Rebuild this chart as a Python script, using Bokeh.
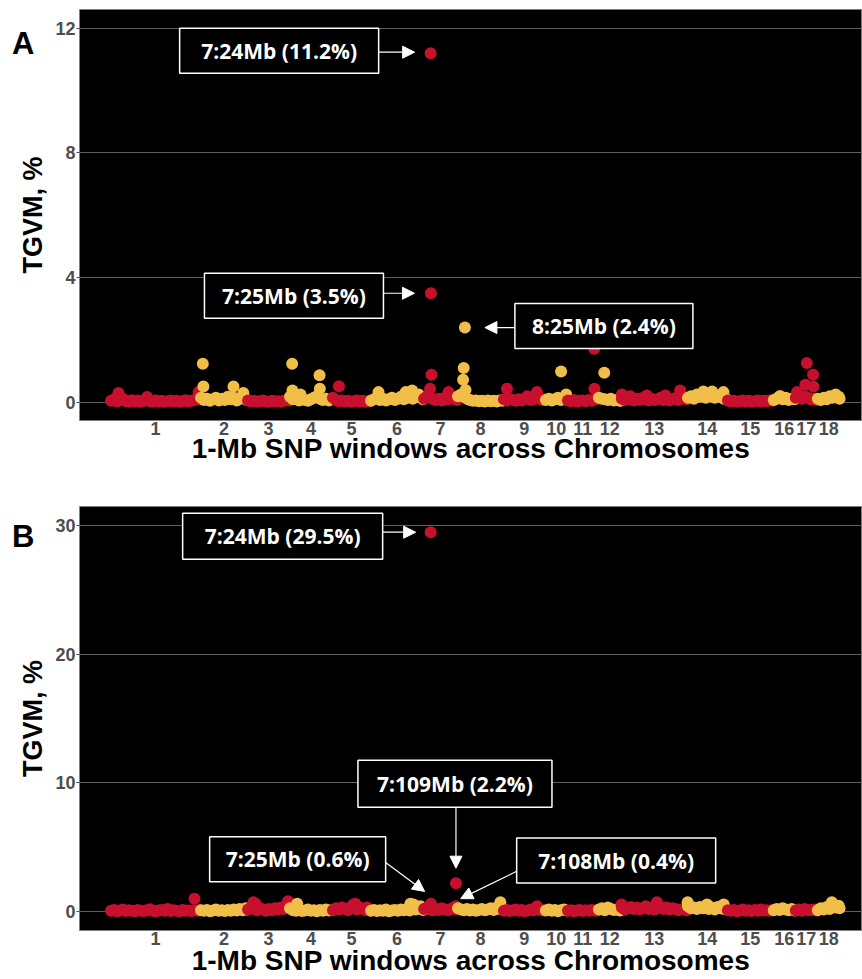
import numpy as np
from bokeh.plotting import figure
from bokeh.layouts import column
from bokeh.models import Range1d, FixedTicker, Arrow, NormalHead, LinearAxis
from bokeh.embed import file_html
from bokeh.resources import INLINE
from bokeh.core.properties import value

# ---------------- data ----------------
chrom_names = ["1", "2", "3", "4", "5", "6", "7", "8", "9", "10",
               "11", "12", "13", "14", "15", "16", "17", "18"]
# number of 1-Mb windows per chromosome (as read from the x extents)
chrom_len = [302, 158, 141, 144, 128, 178, 114, 154, 141, 74, 104, 77, 222, 134, 154, 74, 74, 77]

# background windows (Mb within chromosome), one list per chromosome
base_mb = [
    [2, 12, 22, 32, 42, 52, 62, 72, 82, 92, 102, 112, 122, 132, 142, 152, 162, 172, 182, 192,
     202, 212, 222, 232, 242, 252, 262, 272, 282, 292, 300],
    [2, 12, 22, 32, 42, 52, 62, 72, 82, 92, 102, 112, 122, 132, 142, 152, 156],
    [2, 12, 22, 32, 42, 52, 62, 72, 82, 92, 102, 112, 122, 132, 139],
    [2, 12, 22, 32, 42, 52, 62, 72, 82, 92, 102, 112, 122, 132, 142],
    [2, 12, 22, 32, 42, 52, 62, 72, 82, 92, 102, 112, 122, 126],
    [2, 12, 22, 32, 42, 52, 62, 72, 82, 92, 102, 112, 122, 132, 142, 152, 162, 172, 176],
    [2, 12, 22, 32, 42, 52, 62, 72, 82, 92, 102, 112],
    [2, 12, 22, 32, 42, 52, 62, 72, 82, 92, 102, 112, 122, 132, 142, 152],
    [2, 12, 22, 32, 42, 52, 62, 72, 82, 92, 102, 112, 122, 132, 139],
    [2, 12, 22, 32, 42, 52, 62, 72],
    [2, 12, 22, 32, 42, 52, 62, 72, 82, 92, 102],
    [2, 12, 22, 32, 42, 52, 62, 72, 75],
    [2, 12, 22, 32, 42, 52, 62, 72, 82, 92, 102, 112, 122, 132, 142, 152, 162, 172, 182, 192,
     202, 212, 220],
    [2, 12, 22, 32, 42, 52, 62, 72, 82, 92, 102, 112, 122, 132],
    [2, 12, 22, 32, 42, 52, 62, 72, 82, 92, 102, 112, 122, 132, 142, 152],
    [2, 12, 22, 32, 42, 52, 62, 72],
    [2, 12, 22, 32, 42, 52, 62, 72],
    [2, 12, 22, 32, 42, 52, 62, 72, 75],
]
A_base_val = [
    [0.05, 0.10, 0.03, 0.08, 0.12, 0.04, 0.02, 0.07, 0.03, 0.06, 0.02, 0.05, 0.10, 0.04, 0.02, 0.06,
     0.03, 0.05, 0.02, 0.04, 0.06, 0.03, 0.05, 0.02, 0.04, 0.07, 0.03, 0.05, 0.08, 0.12, 0.10],
    [0.15, 0.08, 0.12, 0.05, 0.10, 0.15, 0.06, 0.12, 0.08, 0.18, 0.10, 0.15, 0.06, 0.12, 0.20, 0.10, 0.08],
    [0.06, 0.03, 0.05, 0.02, 0.04, 0.06, 0.03, 0.02, 0.05, 0.03, 0.04, 0.02, 0.05, 0.08, 0.06],
    [0.18, 0.10, 0.15, 0.06, 0.12, 0.08, 0.05, 0.10, 0.15, 0.20, 0.12, 0.08, 0.12, 0.06, 0.10],
    [0.15, 0.08, 0.04, 0.06, 0.03, 0.05, 0.02, 0.04, 0.06, 0.03, 0.05, 0.02, 0.04, 0.06],
    [0.05, 0.10, 0.15, 0.08, 0.12, 0.06, 0.10, 0.15, 0.08, 0.12, 0.18, 0.10, 0.14, 0.20, 0.12, 0.18,
     0.25, 0.15, 0.10],
    [0.12, 0.20, 0.15, 0.10, 0.08, 0.12, 0.06, 0.15, 0.10, 0.18, 0.12, 0.08],
    [0.20, 0.25, 0.18, 0.12, 0.08, 0.05, 0.06, 0.04, 0.05, 0.03, 0.06, 0.04, 0.05, 0.03, 0.06, 0.05],
    [0.10, 0.06, 0.12, 0.08, 0.05, 0.10, 0.06, 0.12, 0.15, 0.08, 0.10, 0.20, 0.12, 0.08, 0.10],
    [0.08, 0.12, 0.06, 0.10, 0.15, 0.08, 0.12, 0.10],
    [0.06, 0.04, 0.08, 0.03, 0.05, 0.06, 0.04, 0.08, 0.05, 0.10, 0.12],
    [0.15, 0.12, 0.10, 0.08, 0.12, 0.06, 0.08, 0.05, 0.06],
    [0.12, 0.08, 0.15, 0.10, 0.06, 0.12, 0.08, 0.14, 0.10, 0.06, 0.12, 0.08, 0.10, 0.15, 0.08, 0.12,
     0.06, 0.10, 0.14, 0.08, 0.15, 0.12, 0.10],
    [0.15, 0.20, 0.12, 0.25, 0.18, 0.22, 0.15, 0.25, 0.20, 0.15, 0.22, 0.18, 0.12, 0.10],
    [0.06, 0.03, 0.05, 0.02, 0.04, 0.06, 0.03, 0.05, 0.02, 0.04, 0.06, 0.03, 0.05, 0.04, 0.06, 0.05],
    [0.08, 0.12, 0.20, 0.10, 0.15, 0.08, 0.12, 0.10],
    [0.15, 0.25, 0.12, 0.20, 0.15, 0.10, 0.12, 0.08],
    [0.12, 0.08, 0.15, 0.10, 0.20, 0.15, 0.25, 0.18, 0.12],
]
B_base_val = [
    [0.05, 0.12, 0.02, 0.08, 0.15, 0.03, 0.10, 0.05, 0.02, 0.12, 0.06, 0.03, 0.10, 0.15, 0.05, 0.02,
     0.08, 0.12, 0.05, 0.20, 0.03, 0.10, 0.06, 0.02, 0.12, 0.05, 0.08, 0.03, 0.10, 0.06, 0.12],
    [0.10, 0.05, 0.12, 0.02, 0.08, 0.15, 0.05, 0.10, 0.03, 0.12, 0.06, 0.15, 0.08, 0.20, 0.10, 0.25, 0.15],
    [0.15, 0.30, 0.20, 0.10, 0.25, 0.15, 0.05, 0.20, 0.10, 0.25, 0.15, 0.30, 0.20, 0.35, 0.25],
    [0.25, 0.10, 0.05, 0.12, 0.03, 0.08, 0.15, 0.05, 0.10, 0.02, 0.12, 0.06, 0.15, 0.08, 0.10],
    [0.10, 0.25, 0.15, 0.30, 0.20, 0.10, 0.35, 0.25, 0.15, 0.30, 0.20, 0.10, 0.15, 0.05],
    [0.05, 0.12, 0.03, 0.10, 0.06, 0.15, 0.02, 0.08, 0.12, 0.05, 0.15, 0.10, 0.20, 0.08, 0.25, 0.15,
     0.30, 0.20, 0.12],
    [0.20, 0.30, 0.15, 0.10, 0.20, 0.12, 0.25, 0.15, 0.10, 0.20, 0.30, 0.15],
    [0.25, 0.15, 0.10, 0.20, 0.08, 0.15, 0.05, 0.12, 0.20, 0.10, 0.15, 0.25, 0.12, 0.30, 0.20, 0.15],
    [0.05, 0.12, 0.03, 0.10, 0.15, 0.06, 0.12, 0.02, 0.08, 0.15, 0.10, 0.20, 0.12, 0.08, 0.10],
    [0.08, 0.15, 0.05, 0.12, 0.02, 0.10, 0.15, 0.08],
    [0.05, 0.10, 0.02, 0.08, 0.12, 0.03, 0.10, 0.06, 0.12, 0.05, 0.08],
    [0.15, 0.25, 0.10, 0.30, 0.20, 0.12, 0.15, 0.08, 0.10],
    [0.30, 0.15, 0.25, 0.35, 0.20, 0.30, 0.15, 0.25, 0.40, 0.20, 0.30, 0.15, 0.25, 0.35, 0.20, 0.30,
     0.15, 0.25, 0.20, 0.10, 0.15, 0.20, 0.10],
    [0.40, 0.25, 0.30, 0.20, 0.35, 0.25, 0.40, 0.20, 0.30, 0.15, 0.35, 0.25, 0.20, 0.15],
    [0.10, 0.05, 0.12, 0.02, 0.08, 0.15, 0.05, 0.10, 0.03, 0.12, 0.06, 0.15, 0.08, 0.10, 0.05, 0.12],
    [0.10, 0.20, 0.12, 0.25, 0.15, 0.10, 0.20, 0.08],
    [0.08, 0.15, 0.05, 0.20, 0.12, 0.10, 0.15, 0.08],
    [0.10, 0.25, 0.15, 0.35, 0.20, 0.40, 0.30, 0.45, 0.25],
]

# windows standing out of the background (panel A)
A_peak_chr = [1, 1, 1, 2, 2, 2, 2, 4, 4, 4, 4, 4, 5, 6, 6, 6, 7, 7, 7, 7, 7,
              8, 8, 8, 8, 9, 9, 9, 10, 10, 11, 11, 12, 13, 13, 13, 13, 13,
              14, 14, 14, 16, 17, 17, 17, 17, 17, 18]
A_peak_mb = [27, 123, 296, 8, 10, 111, 144, 9, 10, 37, 101, 102, 22, 27, 118, 140, 22, 24, 25, 27, 84,
             19, 21, 25, 27, 12, 80, 113, 53, 70, 90, 91, 20, 2, 30, 86, 148, 198,
             54, 83, 121, 24, 6, 34, 39, 60, 61, 54]
A_peak_val = [0.30, 0.17, 0.33, 1.24, 0.51, 0.51, 0.30, 1.24, 0.38, 0.25, 0.87, 0.44, 0.52, 0.33, 0.33, 0.38,
              0.44, 11.2, 3.5, 0.89, 0.33, 0.73, 1.10, 2.4, 0.40, 0.44, 0.20, 0.33, 0.99, 0.25, 1.72, 0.44,
              0.95, 0.25, 0.20, 0.22, 0.22, 0.38, 0.35, 0.35, 0.33, 0.20, 0.33, 0.57, 1.26, 0.89, 0.51, 0.20]

# panel B
B_peak_chr = [1, 1, 1, 3, 3, 3, 4, 5, 5, 5, 6, 6, 6, 7, 7, 7, 7, 8, 9, 13, 13, 14, 14, 14, 18]
B_peak_mb = [134, 190, 282, 20, 27, 136, 26, 71, 77, 116, 134, 145, 168, 24, 25, 108, 109, 144, 113,
             1, 120, 1, 66, 122, 49]
B_peak_val = [0.15, 0.15, 0.99, 0.72, 0.60, 0.80, 0.60, 0.55, 0.60, 0.30, 0.60, 0.55, 0.40, 29.5, 0.6,
              0.4, 2.2, 0.72, 0.40, 0.55, 0.72, 0.72, 0.55, 0.55, 0.72]

# labelled windows: (chromosome, Mb, text)
A_notes = [(7, 24, "7:24Mb (11.2%)"), (7, 25, "7:25Mb (3.5%)"), (8, 25, "8:25Mb (2.4%)")]
B_notes = [(7, 24, "7:24Mb (29.5%)"), (7, 109, "7:109Mb (2.2%)"), (7, 25, "7:25Mb (0.6%)"),
           (7, 108, "7:108Mb (0.4%)")]

RED = "#C8102E"
GOLD = "#F1BE48"

offsets = np.concatenate([[0], np.cumsum(chrom_len)[:-1]]).astype(float)
centers = [float(o + L / 2) for o, L in zip(offsets, chrom_len)]

X_RANGE = (-104, 2525)
FW = 783


def build(base_val, pk_chr, pk_mb, pk_val):
    chrs, pos, vals = [], [], []
    for i in range(len(chrom_len)):
        for m, v in zip(base_mb[i], base_val[i]):
            chrs.append(i + 1)
            pos.append(m)
            vals.append(v)
    chrs += list(pk_chr)
    pos += list(pk_mb)
    vals += list(pk_val)
    chrs = np.array(chrs)
    pos = np.array(pos, dtype=float)
    vals = np.array(vals, dtype=float)
    order = np.lexsort((pos, chrs))
    chrs, pos, vals = chrs[order], pos[order], vals[order]
    x = offsets[chrs - 1] + pos
    colors = [RED if c % 2 == 1 else GOLD for c in chrs]
    return dict(x=x, y=vals, color=colors)


def make_fig(y_range, yticks, frame_h, top, bottom, letter, title_standoff):
    p = figure(frame_width=FW, frame_height=frame_h,
               x_range=Range1d(*X_RANGE), y_range=Range1d(*y_range),
               output_backend="svg", toolbar_location=None,
               min_border_left=79, min_border_right=0,
               min_border_top=top, min_border_bottom=bottom)
    p.background_fill_color = "black"
    p.border_fill_color = "white"
    p.outline_line_color = "#7f7f7f"
    p.outline_line_width = 1
    p.xgrid.visible = False
    p.ygrid.ticker = FixedTicker(ticks=yticks)
    p.ygrid.grid_line_color = "#5e5e5e"
    p.ygrid.grid_line_width = 1
    p.yaxis.ticker = FixedTicker(ticks=yticks)
    p.xaxis.ticker = FixedTicker(ticks=centers)
    p.xaxis.major_label_overrides = {c: n for c, n in zip(centers, chrom_names)}
    for ax in (p.xaxis[0], p.yaxis[0]):
        ax.major_label_text_font = "Liberation Sans"
        ax.major_label_text_font_style = "bold"
        ax.major_label_text_font_size = "18px"
        ax.major_label_text_color = "#4d4d4d"
        ax.axis_label_text_font = "Liberation Sans"
        ax.axis_label_text_font_style = "bold"
        ax.axis_label_text_color = "black"
        ax.axis_line_color = None
        ax.minor_tick_line_color = None
        ax.major_tick_line_color = "#4d4d4d"
        ax.major_tick_in = 0
        ax.major_tick_out = 3
    p.xaxis.major_tick_out = 0
    p.xaxis.major_tick_line_color = None
    p.xaxis.axis_label = "1-Mb SNP windows across Chromosomes"
    p.xaxis.axis_label_text_font_size = "28px"
    p.xaxis.major_label_standoff = 1
    p.xaxis.axis_label_standoff = title_standoff
    p.yaxis.axis_label = "TGVM, %"
    p.yaxis.axis_label_text_font_size = "27px"
    p.yaxis.major_label_standoff = 1
    p.yaxis.axis_label_standoff = 4

    # panel letter, drawn as the single label of an extra left axis
    sy = (y_range[1] - y_range[0]) / frame_h
    y_letter = float(y_range[1] - (letter[1] - top) * sy)
    lax = LinearAxis(ticker=FixedTicker(ticks=[y_letter]),
                     major_label_overrides={y_letter: letter[0]},
                     axis_line_color=None, major_tick_line_color=None,
                     minor_tick_line_color=None, major_tick_out=0, major_tick_in=0,
                     major_label_text_font="Liberation Sans",
                     major_label_text_font_style="bold",
                     major_label_text_font_size="31px",
                     major_label_text_color="black",
                     major_label_standoff=-19)
    p.add_layout(lax, "left")
    sx = (X_RANGE[1] - X_RANGE[0]) / FW
    return p, sx, sy


def annotate(p, sx, sy, x0, y0, text, box_c, box_wh, a_from, a_to):
    X = lambda dpx: x0 + dpx * sx
    Y = lambda dpy: y0 - dpy * sy
    p.rect(x=[X(box_c[0])], y=[Y(box_c[1])], width=box_wh[0], height=box_wh[1],
           width_units="screen", height_units="screen",
           fill_color="black", line_color="white", line_width=1.5)
    p.text(x=[X(box_c[0])], y=[Y(box_c[1])], text=[text], text_align="center",
           text_baseline="middle", text_color="white", text_font=value("Open Sans"),
           text_font_style="bold", text_font_size="21px")
    p.add_layout(Arrow(end=NormalHead(size=12, fill_color="white", line_color="white"),
                       x_start=X(a_from[0]), y_start=Y(a_from[1]),
                       x_end=X(a_to[0]), y_end=Y(a_to[1]),
                       line_color="white", line_width=1.2))


def lookup(chrs, mbs, vals, c, m):
    for cc, mm, vv in zip(chrs, mbs, vals):
        if cc == c and mm == m:
            return offsets[c - 1] + m, vv


# --------------- panel A ---------------
pA, sxA, syA = make_fig((-0.58, 12.6), [0, 4, 8, 12], 411, 9, 60, ("A", 43), -5)
dA = build(A_base_val, A_peak_chr, A_peak_mb, A_peak_val)
pA.scatter(x=dA["x"], y=dA["y"], color=dA["color"], size=12, line_color=None)

A_layout = [((-151.5, -2.5), (199, 45), (-52, -1), (-16, -1)),
            ((-137, 2.5), (179, 45), (-47.5, 0), (-16.5, 0)),
            ((139, -1.5), (178, 45), (50, 0), (20, 0))]
for (c, m, t), (bc, wh, af, at) in zip(A_notes, A_layout):
    x0, y0 = lookup(A_peak_chr, A_peak_mb, A_peak_val, c, m)
    annotate(pA, sxA, syA, x0, y0, t, bc, wh, af, at)

# --------------- panel B ---------------
pB, sxB, syB = make_fig((-1.48, 31.5), [0, 10, 20, 30], 424, 26, 49, ("B", 56), -3)
dB = build(B_base_val, B_peak_chr, B_peak_mb, B_peak_val)
pB.scatter(x=dB["x"], y=dB["y"], color=dB["color"], size=12, line_color=None)

B_layout = [((-148, 4), (200, 46), (-48, 0), (-15, 0)),
            ((-1, -99.5), (194, 47), (0, -76), (0, -15)),
            ((-133.3, -44.6), (176, 45), (-45.3, -41.3), (-6.3, -12.3)),
            ((160.5, -45.8), (199, 45), (61, -35), (5, -7.7))]
for (c, m, t), (bc, wh, af, at) in zip(B_notes, B_layout):
    x0, y0 = lookup(B_peak_chr, B_peak_mb, B_peak_val, c, m)
    annotate(pB, sxB, syB, x0, y0, t, bc, wh, af, at)

layout = column(pA, pB, spacing=0)
open("out.html", "w").write(file_html(layout, INLINE))
